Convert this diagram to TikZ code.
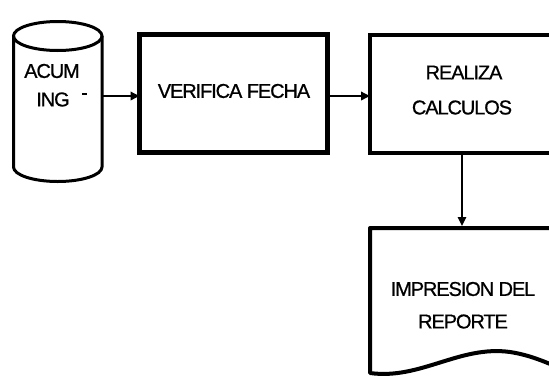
\documentclass[tikz,border=0pt]{standalone}
\usepackage{fontspec}
\setmainfont{Liberation Sans}
\newfontfamily\lblfont[LetterSpace=-5.5,FakeBold=0.8]{Liberation Sans}
\usetikzlibrary{arrows.meta}
\begin{document}
\begin{tikzpicture}[x=1pt,y=-1pt,
  box/.style={draw, line width=4.5pt, inner sep=0pt, outer sep=0pt},
  shapearea/.style={inner sep=0pt, outer sep=0pt},
  lbl/.style={font=\lblfont\fontsize{20}{24}\selectfont, inner sep=0pt, align=center},
  arr/.style={line width=1.8pt, -{Triangle[length=9pt,width=8.5pt]}},
  cylline/.style={line width=3pt},
  docline/.style={line width=4pt, line join=round},
]
\useasboundingbox (0,0) rectangle (549,381);
\clip (0,0) rectangle (549,381);

% cylinder ACUM ING
\node[shapearea, minimum width=88.5pt, minimum height=160pt] (cyl) at (57.75,101.5) {};
\draw[cylline] (13.5,36) -- (13.5,167) arc[start angle=180, end angle=360, x radius=44.25pt, y radius=14.5pt] -- (102,36);
\draw[cylline] (57.75,36) ellipse [x radius=44.25pt, y radius=14.5pt];
\node[lbl] (acum) at (52,71) {ACUM};
\node[lbl] (ing) at (53,99.5) {ING};
\draw[line width=1.4pt] (82,94) -- (86.5,94);

% VERIFICA FECHA
\node[box, minimum width=188pt, minimum height=118pt] (verif) at (233.5,93.5) {};
\node[lbl] (veriftxt) at (234,91) {VERIFICA FECHA};

% REALIZA CALCULOS
\node[box, minimum width=230pt, minimum height=118pt] (calc) at (485,94) {};
\node[lbl] (calctxt1) at (464,72.5) {REALIZA};
\node[lbl] (calctxt2) at (462,107.5) {CALCULOS};

% document IMPRESION DEL REPORTE
\node[shapearea, minimum width=190pt, minimum height=145pt] (doc) at (465,300.5) {};
\draw[docline] (560,228) -- (370,228) -- (370,373)
  .. controls (420,380) and (460,345) .. (510,352)
  .. controls (530,355) and (545,362) .. (560,368);
\node[lbl] (doctxt1) at (463,289) {IMPRESION DEL};
\node[lbl] (doctxt2) at (463,321.5) {REPORTE};

% connectors
\draw[arr] (cyl.east |- 0,96) -- (verif.west |- 0,96);
\draw[arr] (verif.east |- 0,96) -- (calc.west |- 0,96);
\draw[arr, line width=1.5pt, shorten >=2pt] (calc.south -| 462,0) -- (doc.north -| 462,0);
\end{tikzpicture}
\end{document}
